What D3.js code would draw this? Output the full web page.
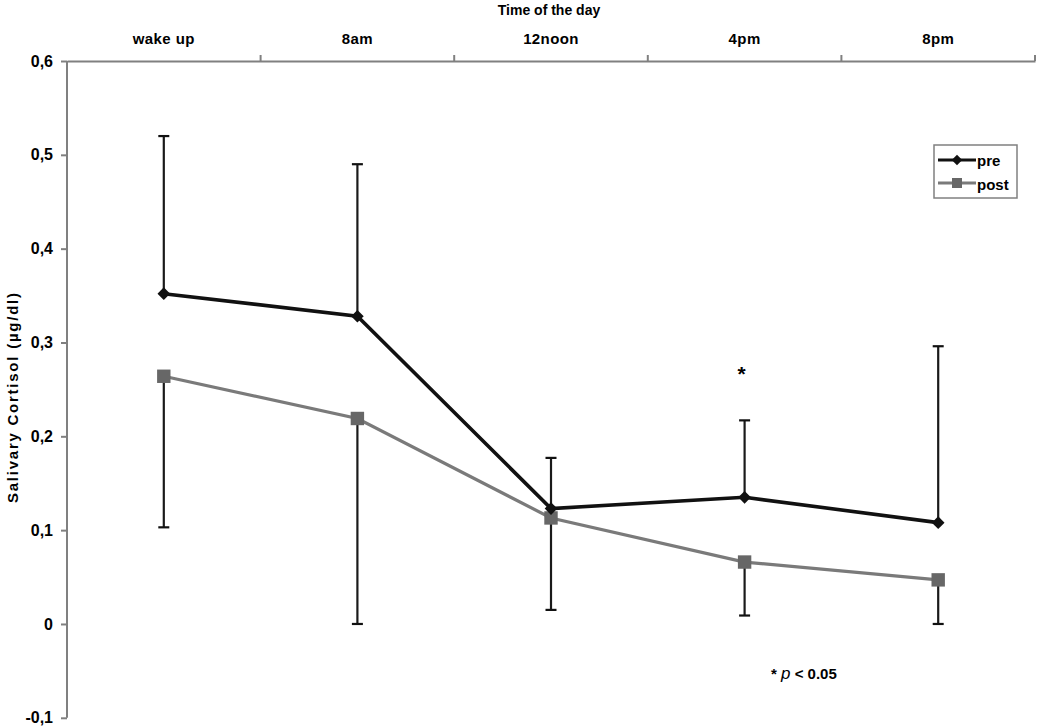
<!DOCTYPE html>
<html><head><meta charset="utf-8">
<script src="https://cdn.jsdelivr.net/npm/d3@7"></script>
<style>body{margin:0;background:#fff}svg{display:block}text{font-family:"Liberation Sans",Arial,sans-serif;font-weight:bold;fill:#000}</style>
</head><body><svg id="c" width="1050" height="726"></svg>
<script>
const categories = ["wake up","8am","12noon","4pm","8pm"];
const preValues = [0.352,0.328,0.123,0.135,0.108];
const postValues = [0.264,0.219,0.113,0.066,0.047];
const preUpper = [0.520,0.490,0.177,0.217,0.296];
const postLower = [0.103,0.000,0.015,0.009,0.000];
const yTicks = [-0.1,0,0.1,0.2,0.3,0.4,0.5,0.6];

const svg = d3.select("#c");
const L = 67, R = 1035, T = 61, B = 717.8;
const x = d3.scaleBand().domain(categories).range([L,R]);
const y = d3.scaleLinear().domain([-0.1,0.6]).range([B,T]);
const fmt = v => v===0 ? "0" : d3.format(".1f")(v).replace(".",",").replace("−","-");
const axisCol = "#808080";

// top axis
const xa = svg.append("g").attr("transform",`translate(0,${T})`)
  .call(d3.axisTop(x).tickSize(0).tickPadding(17));
xa.select(".domain").attr("stroke",axisCol).attr("stroke-width",2);
xa.selectAll("text").attr("font-size",15).attr("letter-spacing",0.4).attr("fill","#000");
xa.selectAll(".tick line").remove();
svg.append("g").selectAll("line").data(categories.slice(1).map(c=>x(c)).concat([R]))
  .join("line").attr("x1",d=>d).attr("x2",d=>d).attr("y1",T).attr("y2",T-6)
  .attr("stroke",axisCol).attr("stroke-width",2);

// left axis
const ya = svg.append("g").attr("transform",`translate(${L},0)`)
  .call(d3.axisLeft(y).tickValues(yTicks).tickFormat(fmt).tickSize(6).tickPadding(8));
ya.select(".domain").attr("stroke",axisCol).attr("stroke-width",2).attr("d",`M0,${T}V${B}`);
ya.selectAll(".tick line").attr("stroke",axisCol).attr("stroke-width",2);
ya.selectAll("text").attr("font-size",16).attr("fill","#000");

svg.append("text").attr("x",549).attr("y",15).attr("text-anchor","middle")
  .attr("font-size",14).text("Time of the day");
svg.append("text").attr("transform",`translate(18,398) rotate(-90)`)
  .attr("text-anchor","middle").attr("font-size",15)
  .attr("textLength",210).attr("lengthAdjust","spacing").text("Salivary Cortisol (µg/dl)");

const cx = c => x(c)+x.bandwidth()/2;
const cap = 5.5;
// error bars
const eb = svg.append("g");
categories.forEach((c,i)=>{
  const X = cx(c);
  [[preValues[i],preUpper[i]],[postValues[i],postLower[i]]].forEach(([a,b])=>{
    eb.append("line").attr("x1",X).attr("x2",X).attr("y1",y(a)).attr("y2",y(b))
      .attr("stroke","#1a1a1a").attr("stroke-width",2.2);
    eb.append("line").attr("x1",X-cap).attr("x2",X+cap).attr("y1",y(b)).attr("y2",y(b))
      .attr("stroke","#111").attr("stroke-width",2.2);
  });
});

const line = d3.line().x((d,i)=>cx(categories[i])).y(d=>y(d));
svg.append("path").datum(postValues).attr("d",line).attr("fill","none")
  .attr("stroke","#7a7a7a").attr("stroke-width",3.2);
svg.append("path").datum(preValues).attr("d",line).attr("fill","none")
  .attr("stroke","#111").attr("stroke-width",3.6);

svg.append("g").selectAll("path").data(postValues).join("path")
  .attr("transform",(d,i)=>`translate(${cx(categories[i])},${y(d)})`)
  .attr("d",d3.symbol().type(d3.symbolSquare).size(180)).attr("fill","#676767");
svg.append("g").selectAll("path").data(preValues).join("path")
  .attr("transform",(d,i)=>`translate(${cx(categories[i])},${y(d)}) rotate(45)`)
  .attr("d",d3.symbol().type(d3.symbolSquare).size(80)).attr("fill","#111");

// asterisk
svg.append("text").attr("x",cx("4pm")-3).attr("y",381).attr("text-anchor","middle")
  .attr("font-size",21).text("*");
const note = svg.append("text").attr("x",771).attr("y",679).attr("font-size",15);
note.append("tspan").text("* ");
note.append("tspan").attr("font-style","italic").attr("font-weight","normal").attr("font-size",17).text("p");
note.append("tspan").text(" < 0.05");

// legend
const lg = svg.append("g");
lg.append("rect").attr("x",934).attr("y",145).attr("width",83).attr("height",53)
  .attr("fill","#fff").attr("stroke","#808080").attr("stroke-width",1.5);
lg.append("line").attr("x1",938).attr("x2",976).attr("y1",160).attr("y2",160).attr("stroke","#111").attr("stroke-width",3);
lg.append("path").attr("transform","translate(957,160) rotate(45)").attr("d",d3.symbol().type(d3.symbolSquare).size(55)).attr("fill","#111");
lg.append("line").attr("x1",938).attr("x2",976).attr("y1",183).attr("y2",183).attr("stroke","#7a7a7a").attr("stroke-width",3);
lg.append("path").attr("transform","translate(957,183)").attr("d",d3.symbol().type(d3.symbolSquare).size(100)).attr("fill","#676767");
lg.append("text").attr("x",977).attr("y",166).attr("font-size",15).text("pre");
lg.append("text").attr("x",977).attr("y",190).attr("font-size",15).text("post");
</script></body></html>
